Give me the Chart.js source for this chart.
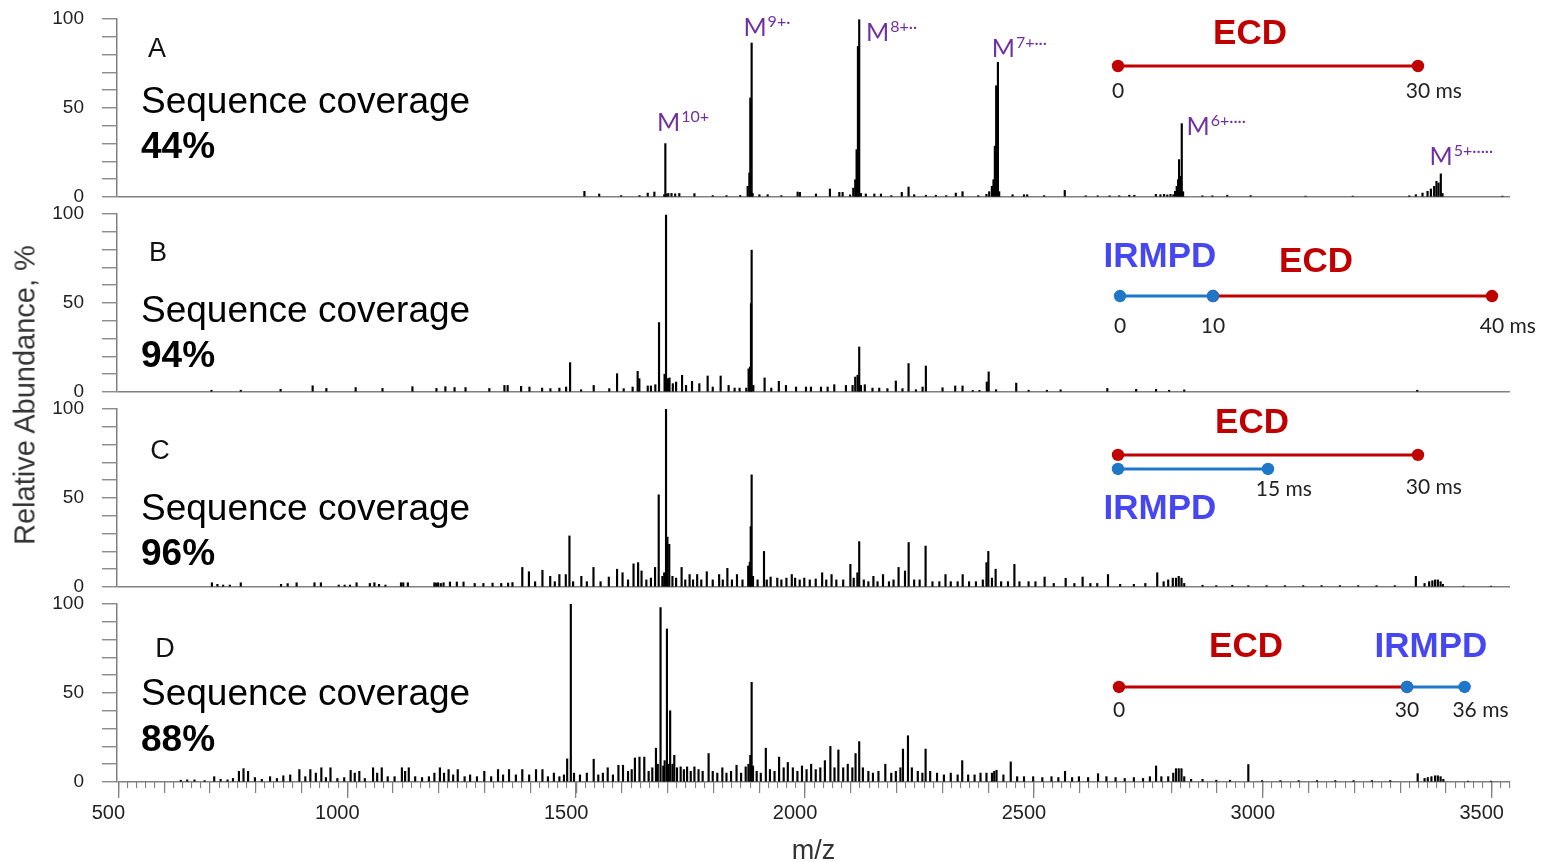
<!DOCTYPE html>
<html>
<head>
<meta charset="utf-8">
<script src="https://cdn.jsdelivr.net/npm/chart.js@4.4.1/dist/chart.umd.min.js"></script>
<style>
html,body{margin:0;padding:0;background:#fff;}
#wrap{position:relative;width:1541px;height:862px;overflow:hidden;background:#fff;}
#wrap canvas{position:absolute;left:0;}
#ytitle{position:absolute;left:25px;top:395px;transform:translate(-50%,-50%) rotate(-90deg);
  font-family:'Liberation Sans',Arial,sans-serif;font-size:29px;line-height:1;color:#333;white-space:nowrap;}
</style>
</head>
<body>
<div id="wrap">
  <canvas id="cA" width="1541" height="215" style="top:0px"></canvas>
  <canvas id="cB" width="1541" height="215" style="top:195px"></canvas>
  <canvas id="cC" width="1541" height="215" style="top:390px"></canvas>
  <canvas id="cD" width="1541" height="281" style="top:585px"></canvas>
  <div id="ytitle">Relative Abundance, %</div>
</div>
<script>
// ================= DATA =================
const xTickLabels = [500, 1000, 1500, 2000, 2500, 3000, 3500];
const panelLetters = ['A', 'B', 'C', 'D'];
const coverage = ['44%', '94%', '96%', '88%'];

// [m/z, relative abundance %]
const specA = [
[1519.7,3.2],[1552,1.7],[1600,0.8],[1640,0.8],[1658,2.2],[1672.5,2.8],[1694,1.3],[1696.5,30],[1699,1.7],[1703,2],[1710,2],[1718,1.8],[1727,2],[1760,1.9],[1800,0.8],[1830,0.8],[1860,0.9],
[1876.3,6],[1880,13.5],[1882.1,55.6],[1885,86.5],[1887.2,2],[1902,1.3],[1920,1.3],[1950,0.8],[1985.5,2.8],[1990.5,2.6],[2025.5,1.7],[2056,4.5],[2076.5,2.6],[2083.7,2.6],
[2100,1.2],[2107,5],[2111.3,9.7],[2114.3,26.6],[2117.2,84.6],[2120,99.6],[2123.8,2],[2134.5,1.7],[2153,1.7],[2167.5,1.7],[2190,0.8],[2213,2.6],[2227.8,5.6],[2240,1.3],[2265.6,1],[2287.5,1],[2310,0.8],[2331,2.2],[2345.7,3],[2380,0.8],
[2398,1.5],[2404,3],[2409.8,6],[2413.3,9.7],[2416.3,28.5],[2419.2,62.5],[2423,75.7],[2425.8,3],[2455,1.3],[2480,1.3],[2487,1.3],[2524,0.8],[2569,3.7],[2615,0.7],[2641,0.7],[2667,0.7],[2688,0.7],[2710,1],[2721,1],[2768,1.5],[2778,1.3],[2786,1.5],[2793,1.2],[2800,1.5],
[2806.3,1.3],[2810,3.2],[2813.6,6],[2816.5,9.7],[2818.7,21],[2821.5,11.6],[2824.6,41.2],[2827.5,3],[2869.7,0.7],[2891.5,0.7],[2924,1],[2975,0.8],[3095,0.5],[3198,0.5],
[3321.6,0.7],[3336,1.3],[3350.5,2.2],[3361.5,3.2],[3368.8,4.5],[3376,6],[3381,8.8],[3385.5,7.9],[3390.5,13],[3394.2,2],[3525,0.5]
];
const specB = [
[705,1],[769,1],[856,1.5],[926,3.5],[956,2],[1020,2.5],[1078.6,2],[1144,3],[1196.5,2],[1216,3],[1236,2.5],[1260,2.5],[1312,2],
[1345,3.7],[1352,3.7],[1381.4,3.2],[1399.6,2.8],[1427.3,2.2],[1445.4,1.9],[1465,2.2],[1479.7,2.8],[1488.4,16.5],[1512.5,1.3],[1540,3.7],[1574,1.9],[1591,10.3],[1605.5,1.9],[1625,2.8],[1636,11.6],[1639.7,7.5],[1658,3.4],[1665,3.4],[1674.6,4.1],[1682.7,39],[1694.8,10],[1698,99.4],[1702,7.5],[1705.6,7.9],[1712.8,4.7],[1720,5.6],[1733,9.4],[1741.7,3.7],[1754.8,6],[1770.7,4.7],[1788.9,9],[1800,2.8],[1817.3,9],[1834.7,3.7],[1847.8,2.2],[1858.7,2.2],[1873.3,2.2],
[1878.4,13],[1881.4,14],[1883.6,49.7],[1885,79.7],[1888.7,3.7],[1913.3,7.9],[1927.9,2.2],[1944.4,6],[1960,3.7],[1982,2.8],[2003.7,2.8],[2014.6,2.8],[2036.5,2.8],[2051,2.8],[2065.5,4.1],[2091,3.7],
[2105.5,3.7],[2111.3,8.4],[2116.4,9.4],[2120,25.3],[2123.8,3.7],[2132.2,4.1],[2149,2.2],[2163.7,2.2],[2181.6,1.9],[2200,6.2],[2214.5,1.9],[2227.8,16],[2243.8,1.3],[2258.4,2.8],[2265.6,14.6],[2302,2.4],[2329.7,3.4],[2345.7,3.4],[2368,0.9],[2382.7,0.9],[2398.7,5.6],[2402.8,11.3],[2419,1.3],
[2463,5],[2490,1],[2530,1],[2560,1.2],[2662,2],[2725,1.5],[2768.5,1.5],[2797,1],[2830,1.2],[3339,1]
];
const specC = [
[706,2.4],[718,1.5],[730.5,1.1],[745,1.1],[769,2.4],[857,1.5],[871.5,1.9],[891,2.4],[930,2.4],[944,2.4],[983,1.1],[996,1.1],[1007.6,1.1],[1022,2.4],[1051,2],[1061,2.4],[1071,1.5],[1085,1.1],[1119,2.4],[1124,2.4],[1134,2.4],[1192,2.4],[1196,2.2],[1200,2.4],[1206,2],[1212,2.4],[1226,2.8],[1241,2.8],[1255.6,2.8],[1280,2],[1299,2],[1319,2.2],[1338,2],[1353,2.2],[1362.5,2.5],
[1384,11],[1398.5,8.6],[1412,3],[1428,9.4],[1445,6],[1455,3],[1465,7],[1479,7],[1487,28.7],[1495,3],[1513,6],[1525,3],[1539.5,11],[1555,3],[1573,5.6],[1591,10],[1603,8],[1615,4],[1627,13],[1637,13.7],[1644.5,9],[1655,4],[1665,5],[1674,11],[1682,51.8],[1690,6],[1694,8],[1698,100],[1701,28],[1705,24],[1712,6],[1720,5],[1732,11],[1740,4],[1749.5,7],[1757,4],[1766,7],[1775,4],[1787,8.6],[1800,4],[1814,7],[1822,4],[1832,10.5],[1842,4],[1853,7],[1865,4],[1877.5,11.8],[1881,14],[1883,34],[1885,63],[1888,6],[1898,4],[1912,20],[1918,4],[1926.5,5.6],[1941,5],[1950,4],[1961,5],[1972.7,7],[1980,5],
[1990,4],[2000,5],[2012,4],[2025,4.5],[2039,8],[2048,4],[2059.6,7],[2070,4],[2085,4],[2100.7,12.7],[2108,5],[2116,8],[2120,25.5],[2130,4],[2140,3],[2151,6],[2160,3],[2172,7],[2185,3],[2195,4],[2206,11],[2220,9],[2228,25],[2240,4],[2252,4],[2265,23],[2280,3],[2295,3],[2308.5,7],[2320,3],[2335,3],[2346,7],[2360,3],[2375,3],[2390,4],[2398,13.7],[2402,20],[2410,5],[2418,10],[2430,3],[2445,3],[2459,12.7],[2470,3],[2490,3],[2505,3],[2525,5.6],[2545,2],[2571,4.9],[2590,2],[2608,5.6],[2625,2],[2640,2],[2663.5,7],[2690,1.5],[2720,1.5],[2745,2],[2771,8],[2785,3],[2795,4],[2805,5],[2812,5],[2818,6],[2824,5],[2830,2],
[2870,1],[2900,0.8],[2935,1],[2970,0.8],[3010,0.8],[3050,0.8],[3090,0.8],[3130,0.8],[3170,0.8],[3210,0.8],[3250,0.8],[3290,0.8],[3336,6],[3355,2],[3365,3],[3372,3.5],[3378,4],[3384,4],[3390,3],[3395,1.5],[3440,0.5],[3500,0.5]
];
const specD = [
[638,1],[652,1.2],[668,1.2],[690,0.8],[711,3],[725,1.5],[740,1.2],[752,2],[765,6],[775,7.5],[785,6],[800,2.5],[815,1.5],[833,3],[848,2],[862,3.5],[877,4],[897,7],[910,3],[921,7],[933,5],[945,8],[955,2.5],[965,8],[980,2],[995,2.5],[1009,6.5],[1018,5],[1028,6],[1040,2],[1058,8],[1067,5],[1077,8],[1090,3],[1105,3],[1121,8],[1128,6],[1136,8],[1150,3],[1165,2.5],[1180,3],[1192,5],[1204,8],[1213,5],[1223,7],[1233,4],[1243,7],[1258,3],[1270,4],[1285,3],[1301,6],[1316,3],[1331,7],[1342,4],[1355,7],[1370,4],[1384,7],[1399,4],[1414,7],[1428,7],[1440,3],[1453,5],[1465,3],[1475,4],[1482,13],[1490,100],[1497,5],[1510,4],[1525,5],[1540,12.8],[1550,4],[1560,5],[1570.6,8],[1582,4],[1594,9.4],[1604,9.4],[1615,6],[1623,7],[1630,13.5],[1640,14],[1650.5,14],[1660,6],[1668,8],[1676,19],[1680,10],[1686,98],[1692,9],[1695,12],[1700,86],[1703,10],[1707,40],[1712,10],[1716,15],[1722,8],[1730,8.5],[1737,7],[1744,8.5],[1752,6],[1760,8.5],[1769,7],[1778,6],[1791,16],[1800,6],[1810,5],[1821,8],[1830,5],[1840,6],[1852,9.4],[1862,5],[1872,8.5],[1878,10],[1882,15],[1885,56],[1888,9],[1896,6],[1905,5],[1916,19],[1925,7],[1935,6],[1945,14],[1955,8],[1964,11],
[1975,8],[1985,6],[1995,9],[2005,7],[2015,10],[2025,7],[2035,8],[2045,12],[2057,20],[2066,8],[2074.5,18],[2085,8],[2095,10],[2105,8],[2112,16],[2120,22.7],[2128,8],[2140,6],[2150,5],[2162,6],[2177,10],[2190,5],[2200,6],[2210,8],[2215.6,18.5],[2226.5,26],[2235,8],[2248,6],[2258,5],[2265,18.5],[2275,6],[2290,5],[2305,4],[2320,5],[2335,4],[2345,12],[2358,4],[2372,4],[2385,5],[2398,5],[2410,5],[2415,6],[2420,6.6],[2435,4],[2451,11.3],[2465,3],[2480,3],[2500,3],[2520,2.5],[2540,3],[2555,2.5],[2569.6,6],[2585,2.5],[2600,3],[2620,2.5],[2641.7,4.7],[2660,3],[2680,2.5],[2700,2],[2720,2.5],[2740,2],[2755,3],[2768.5,9],[2780,3],[2795,3],[2806,5],[2812,7.5],[2818,7.5],[2824,7.5],[2830,3],[2845,1.5],[2870,1.5],[2900,1],[2930,1],[2970,9.8],[3000,0.8],[3040,0.8],[3080,0.8],[3120,0.8],[3160,0.8],[3200,0.8],[3240,0.8],[3280,0.8],[3340,4.7],[3355,2],[3362,2.5],[3370,3],[3378,3.5],[3384,3.5],[3390,3],[3396,1.5],[3450,0.5],[3500,0.5]
];

// precursor ion labels in panel A
const precursorMz = [1696.5, 1885, 2120, 2423, 2824.6, 3390.5];
const precursorCharge = ['10+', '9+·', '8+··', '7+···', '6+····', '5+·····'];

// activation timing schemes (ms)
const ecdA = [0, 30];
const irmpdB = [0, 10], ecdB = [10, 40];
const ecdC = [0, 30], irmpdC = [0, 15];
const ecdD = [0, 30], irmpdD = [30, 36];
const msLabelsA = [0, 30];
const msLabelsB = [0, 10, 40];
const msLabelsC = [15, 30];
const msLabelsD = [0, 30, 36];

// ================= STYLE / LAYOUT =================
const FONT = "'Liberation Sans', Arial, Helvetica, sans-serif";
const FONT2 = "Lato, 'Open Sans', sans-serif";
const GRAY = '#808080';
const RED = '#C00000', BLUE = '#1E77C9', RED_T = '#C00000', BLUE_T = '#4747F2', PURPLE = '#7030A0';
const X_MIN = 497, X_MAX = 3540;
const AREA_L = 117, AREA_R = 1510;

const PANELS = {
  cA: { top: 0, spec: specA, idx: 0, letter: [157, 57], seq: 113, pct: 158,
        zeroPx: 1118, pxPerMs: 10,
        segs: [{ ms: ecdA, row: 73.6, color: RED, order: 1 }],
        proc: [['ECD', 1250, 44]],
        msLab: msLabelsA, msY: [98, 98], unitLast: true,
        peakDx: [-9, -9, 6, -7, 4, -12], peakY: [131, 36, 41, 57, 135, 165] },
  cB: { top: 195, spec: specB, idx: 1, letter: [158, 261], seq: 322, pct: 367,
        zeroPx: 1120, pxPerMs: 9.3,
        segs: [{ ms: irmpdB, row: 53.9, color: BLUE, order: 0 }, { ms: ecdB, row: 53.9, color: RED, order: 1 }],
        proc: [['IRMPD', 1160, 267], ['ECD', 1316, 272]],
        msLab: msLabelsB, msY: [333, 333, 333], unitLast: true },
  cC: { top: 390, spec: specC, idx: 2, letter: [160, 459], seq: 520, pct: 565,
        zeroPx: 1118, pxPerMs: 10,
        segs: [{ ms: ecdC, row: 74.2, color: RED, order: 0 }, { ms: irmpdC, row: 66.3, color: BLUE, order: 1 }],
        proc: [['ECD', 1252, 433], ['IRMPD', 1160, 519]],
        msLab: msLabelsC, msY: [496, 494], unitAll: true },
  cD: { top: 585, spec: specD, idx: 3, letter: [165, 657], seq: 705, pct: 751,
        zeroPx: 1119, pxPerMs: 9.6,
        segs: [{ ms: irmpdD, row: 53.4, color: BLUE, order: 0 }, { ms: ecdD, row: 53.4, color: RED, order: 1 }],
        proc: [['ECD', 1246, 657], ['IRMPD', 1431, 657]],
        msLab: msLabelsD, msY: [717, 717, 717], unitLast: true, bottom: true }
};

const annot = {
  id: 'annot',
  afterDraw(chart) {
    const P = PANELS[chart.canvas.id];
    if (!P) return;
    const ctx = chart.ctx, T = P.top;
    ctx.save();
    ctx.textBaseline = 'alphabetic';
    ctx.fillStyle = '#111';
    ctx.textAlign = 'center';
    ctx.font = '27px ' + FONT;
    ctx.fillText(panelLetters[P.idx], P.letter[0], P.letter[1] - T);
    ctx.textAlign = 'left';
    ctx.fillStyle = '#000';
    ctx.font = '37px ' + FONT;
    ctx.fillText('Sequence coverage', 141, P.seq - T);
    ctx.font = 'bold 37px ' + FONT;
    ctx.fillText(coverage[P.idx], 141, P.pct - T);
    ctx.textAlign = 'center';
    ctx.font = 'bold 35px ' + FONT;
    P.proc.forEach(([txt, cx, by]) => {
      ctx.fillStyle = txt === 'ECD' ? RED_T : BLUE_T;
      ctx.fillText(txt, cx, by - T);
    });
    const tx = chart.scales.tx;
    ctx.font = '21px ' + FONT2;
    ctx.fillStyle = '#222';
    P.msLab.forEach((ms, i) => {
      const px = tx.getPixelForValue(ms);
      const num = String(ms);
      const w = ctx.measureText(num).width;
      ctx.textAlign = 'center';
      ctx.fillText(num, px, P.msY[i] - T);
      const unit = P.unitAll || (P.unitLast && i === P.msLab.length - 1);
      if (unit) { ctx.textAlign = 'left'; ctx.fillText(' ms', px + w / 2, P.msY[i] - T); }
    });
    if (P.peakDx) {
      const xs = chart.scales.x;
      ctx.fillStyle = PURPLE;
      ctx.textAlign = 'left';
      precursorMz.forEach((mz, i) => {
        const px = xs.getPixelForValue(mz) + P.peakDx[i];
        const by = P.peakY[i] - T;
        ctx.font = '25px ' + FONT2;
        ctx.fillText('M', px, by);
        const w = ctx.measureText('M').width;
        ctx.font = '16px ' + FONT2;
        ctx.fillText(precursorCharge[i], px + w + 1, by - 9);
      });
    }
    ctx.restore();
  }
};

function yScale() {
  return {
    type: 'linear', min: 0, max: 100, position: 'left',
    afterFit(s) { s.width = AREA_L; s.paddingTop = 0; s.paddingBottom = 0; },
    ticks: { stepSize: 10, autoSkip: false, padding: 18, color: '#222',
             font: { family: FONT, size: 19 },
             callback: (v) => (v % 50 === 0 ? String(v) : '') },
    grid: { drawOnChartArea: true, drawTicks: true, tickLength: 15, lineWidth: 1.5, tickWidth: 1.3,
            color: (c) => (c.tick && c.tick.value === 0 ? GRAY : 'rgba(0,0,0,0)'), tickColor: GRAY },
    border: { display: true, color: GRAY, width: 1.5 }
  };
}

function buildChart(id) {
  const P = PANELS[id];
  const datasets = [{
    type: 'bar',
    data: P.spec.map(([x, y]) => ({ x, y })),
    backgroundColor: '#000', borderWidth: 0, barThickness: 1.5,
    xAxisID: 'x', yAxisID: 'y', order: 10
  }];
  P.segs.forEach(s => {
    datasets.push({
      type: 'line',
      data: s.ms.map(t => ({ x: t, y: s.row })),
      xAxisID: 'tx', yAxisID: 'y',
      borderColor: s.color, borderWidth: 3, backgroundColor: s.color,
      pointRadius: 6.2, pointBackgroundColor: s.color, pointBorderWidth: 0,
      fill: false, tension: 0, order: s.order, clip: false
    });
  });
  const txMin = -(P.zeroPx - AREA_L) / P.pxPerMs;
  const txMax = (AREA_R - P.zeroPx) / P.pxPerMs;
  const scales = {
    x: { type: 'linear', min: X_MIN, max: X_MAX, offset: false, display: false },
    tx: { type: 'linear', min: txMin, max: txMax, offset: false, display: false },
    y: yScale()
  };
  if (P.bottom) {
    scales.x = {
      type: 'linear', position: 'bottom', min: X_MIN, max: X_MAX, offset: false, weight: 1,
      afterBuildTicks(s) { s.ticks = xTickLabels.map(v => ({ value: v })); },
      afterFit(s) { s.height = 84; s.paddingLeft = 0; s.paddingRight = 0; },
      ticks: { autoSkip: false, maxRotation: 0, padding: 3, labelOffset: -10, color: '#222',
               font: { family: FONT, size: 20 }, callback: (v) => String(v) },
      grid: { drawOnChartArea: false, offset: false, tickLength: 16, color: GRAY, lineWidth: 1.3 },
      border: { display: false },
      title: { display: true, text: 'm/z', color: '#333', font: { family: FONT, size: 27, lineHeight: 1 },
               padding: { top: 0, bottom: 1 } }
    };
    scales.xm = {
      type: 'linear', position: 'bottom', min: X_MIN, max: X_MAX, offset: false, weight: 0,
      afterFit(s) { s.height = 0; s.paddingLeft = 0; s.paddingRight = 0; },
      ticks: { display: false, stepSize: 100, includeBounds: false },
      grid: { drawOnChartArea: false, offset: false, tickLength: 11, color: GRAY, lineWidth: 1.2 },
      border: { display: false }
    };
    scales.xs = {
      type: 'linear', position: 'bottom', min: X_MIN, max: X_MAX, offset: false, weight: 0,
      afterFit(s) { s.height = 0; s.paddingLeft = 0; s.paddingRight = 0; },
      ticks: { display: false, stepSize: 20, includeBounds: false },
      grid: { drawOnChartArea: false, offset: false, tickLength: 6, color: GRAY, lineWidth: 1.1 },
      border: { display: false }
    };
  }
  new Chart(document.getElementById(id), {
    type: 'bar',
    data: { datasets },
    options: {
      responsive: false, animation: false, devicePixelRatio: 1,
      layout: { padding: { left: 0, right: 1541 - AREA_R, top: 19, bottom: P.bottom ? 0 : 18 } },
      plugins: { legend: { display: false }, tooltip: { enabled: false } },
      scales
    },
    plugins: [annot]
  });
}

['cA', 'cB', 'cC', 'cD'].forEach(buildChart);
</script>
</body>
</html>
